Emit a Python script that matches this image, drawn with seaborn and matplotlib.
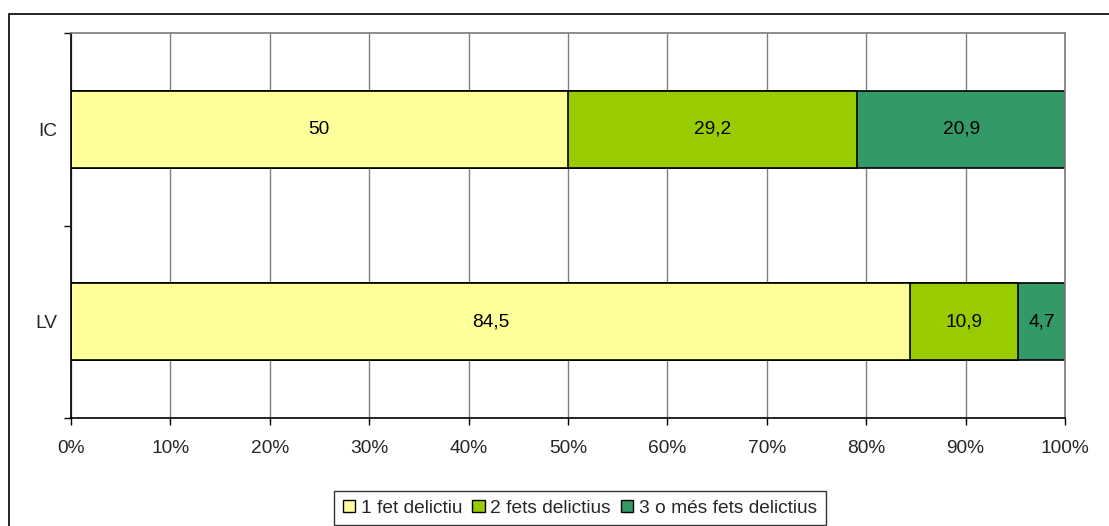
import matplotlib
matplotlib.use("Agg")
import matplotlib.pyplot as plt
from matplotlib.patches import Patch, Rectangle
import seaborn as sns
import pandas as pd
import numpy as np

categories = ["IC", "LV"]
series_names = ["1 fet delictiu", "2 fets delictius", "3 o més fets delictius"]
s1 = [50.0, 84.5]
s2 = [29.2, 10.9]
s3 = [20.9, 4.7]
labels1 = ["50", "84,5"]
labels2 = ["29,2", "10,9"]
labels3 = ["20,9", "4,7"]
colors = ["#FFFF99", "#99CC00", "#339966"]
xticks = [0, 10, 20, 30, 40, 50, 60, 70, 80, 90, 100]
xticklabels = [f"{v}%" for v in xticks]

sns.set_theme(style="white")
plt.rcParams["font.family"] = ["Liberation Sans", "DejaVu Sans"]

FS = 13.8

vals = np.array([s1, s2, s3])
tot = vals.sum(axis=0)
pct = vals / tot * 100
cum = np.cumsum(pct, axis=0)

fig = plt.figure(figsize=(11.09, 5.26), dpi=100)
ax = fig.add_axes([71/1109, 1 - 418/526, (1065-71)/1109, (418-33)/526])

ax.set_axisbelow(True)
ax.xaxis.grid(True, color="#808080", linewidth=1)

for i in reversed(range(3)):
    df = pd.DataFrame({"cat": categories, "val": cum[i]})
    sns.barplot(data=df, x="val", y="cat", orient="h", color=colors[i],
                edgecolor="black", linewidth=1.2, width=0.4, saturation=1,
                ax=ax, zorder=2)

all_labels = [labels1, labels2, labels3]
for i in range(3):
    left = cum[i] - pct[i]
    for j in range(len(categories)):
        ax.text(left[j] + pct[i][j] / 2, j, all_labels[i][j], ha="center",
                va="center", fontsize=FS, color="black", zorder=3)

ax.set_xlim(0, 100)
ax.set_ylim(1.5, -0.5)
ax.set_xticks(xticks)
ax.set_xticklabels(xticklabels, fontsize=FS)
ax.set_yticks([0, 1])
ax.set_yticklabels(categories, fontsize=FS)
ax.set_yticks([-0.5, 0.5, 1.5], minor=True)
ax.tick_params(axis="y", which="major", length=0, pad=10)
ax.tick_params(axis="y", which="minor", length=5, width=1, color="black", direction="out", left=True)
ax.tick_params(axis="x", which="major", length=5, width=1, color="black", direction="out", bottom=True, pad=11)
ax.set_xlabel("")
ax.set_ylabel("")
for side in ["left", "bottom"]:
    ax.spines[side].set_color("black")
    ax.spines[side].set_linewidth(1.2)
ax.spines["top"].set_color("#808080")
ax.spines["right"].set_color("#808080")

fig.patches.append(Rectangle((9/1109, -0.01), 1.0, 0.01 + (526-14)/526,
                             transform=fig.transFigure, fill=False,
                             edgecolor="black", linewidth=1.2))

handles = [Patch(facecolor=c, edgecolor="black", linewidth=1) for c in colors]
leg = fig.legend(handles, series_names, loc="center", ncol=3,
                 bbox_to_anchor=(0.523, 0.034), bbox_transform=fig.transFigure,
                 fontsize=FS, frameon=True, fancybox=False, handlelength=0.65,
                 handleheight=0.65, handletextpad=0.3, columnspacing=0.5,
                 borderpad=0.45, borderaxespad=0)
leg.get_frame().set_edgecolor("black")
leg.get_frame().set_linewidth(1)

fig.savefig("out.png", dpi=100)
